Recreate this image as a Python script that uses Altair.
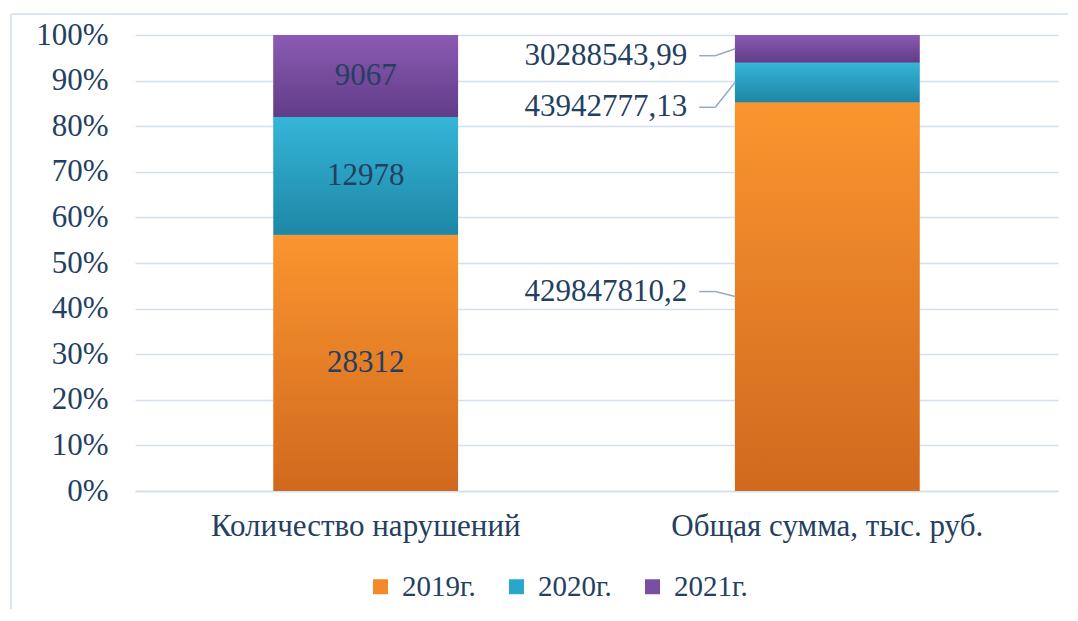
import altair as alt
import pandas as pd

categories = ["Количество нарушений", "Общая сумма, тыс. руб."]
years = ["2019г.", "2020г.", "2021г."]
values_count = [28312, 12978, 9067]
values_sum = [429847810.2, 43942777.13, 30288543.99]
labels_count = ["28312", "12978", "9067"]
labels_sum = ["429847810,2", "43942777,13", "30288543,99"]

# styles
FONT = "Liberation Serif"
TEXT = "#243F62"
GRID = "#D3DEEE"
solid = ["#F28A2A", "#2AA6C9", "#7A4FA3"]
grad_top = ["#FA952F", "#35B6D8", "#8A5BB2"]
grad_bot = ["#D1691E", "#1E86A6", "#613C88"]
right_dy = [-5, 25, 7]  # pixel offsets of outside labels (2019, 2020, 2021)

rows = []
for i, yr in enumerate(years):
    rows.append({"cat": categories[0], "year": yr, "order": i,
                 "value": values_count[i], "label": labels_count[i]})
    rows.append({"cat": categories[1], "year": yr, "order": i,
                 "value": values_sum[i], "label": labels_sum[i]})
df = pd.DataFrame(rows)

base = (
    alt.Chart(df)
    .transform_joinaggregate(total="sum(value)", groupby=["cat"])
    .transform_calculate(pct="datum.value / datum.total * 100")
    .transform_stack(stack="pct", groupby=["cat"],
                     sort=[alt.SortField("order", order="ascending")],
                     as_=["y0", "y1"])
    .transform_calculate(mid="(datum.y0 + datum.y1) / 2")
)

x_enc = alt.X(
    "cat:N",
    scale=alt.Scale(domain=categories, paddingInner=0.6, paddingOuter=0.3),
    axis=alt.Axis(title=None, labelAngle=0, labelPadding=20, ticks=False,
                  labelLimit=0, domain=True, domainColor=GRID, domainWidth=1.5,
                  labelFont=FONT, labelFontSize=31, labelColor=TEXT),
)
y_axis = alt.Axis(title=None, values=list(range(0, 101, 10)),
                  labelExpr="datum.value + '%'", ticks=False, domain=False,
                  grid=True, gridColor=GRID, gridWidth=1.5, labelPadding=27,
                  labelFont=FONT, labelFontSize=31, labelColor=TEXT)
y_scale = alt.Scale(domain=[0, 100], nice=False)

bars = base.mark_bar().encode(
    x=x_enc,
    y=alt.Y("y0:Q", scale=y_scale, axis=y_axis),
    y2="y1:Q",
    color=alt.Color(
        "year:N",
        scale=alt.Scale(domain=years, range=solid),
        legend=alt.Legend(title=None, orient="none", direction="horizontal",
                          legendX=231, legendY=537, symbolType="square",
                          symbolSize=225, symbolStrokeWidth=0,
                          labelFont=FONT, labelFontSize=29, labelColor=TEXT,
                          labelOffset=7, columnPadding=26),
    ),
)

layers = [bars]
for i, yr in enumerate(years):
    g = alt.LinearGradient(
        gradient="linear", x1=0, y1=0, x2=0, y2=1,
        stops=[alt.GradientStop(offset=0, color=grad_top[i]),
               alt.GradientStop(offset=1, color=grad_bot[i])],
    )
    layers.append(
        base.transform_filter(alt.datum.year == yr)
        .mark_bar(fill=g)
        .encode(x=x_enc, y=alt.Y("y0:Q", scale=y_scale, axis=y_axis), y2="y1:Q")
    )

# labels inside left bar
layers.append(
    base.transform_filter(alt.datum.cat == categories[0])
    .mark_text(font=FONT, fontSize=31, color=TEXT)
    .encode(x=x_enc, y=alt.Y("mid:Q", scale=y_scale, axis=y_axis), text="label:N")
)

# labels outside right bar with leader lines
for i, yr in enumerate(years):
    sub = base.transform_filter(
        (alt.datum.cat == categories[1]) & (alt.datum.year == yr))
    d = right_dy[i]
    layers.append(
        sub.mark_text(font=FONT, fontSize=31, color=TEXT, align="right",
                      dx=-140, dy=d)
        .encode(x=x_enc, y=alt.Y("mid:Q", scale=y_scale, axis=y_axis),
                text="label:N")
    )
    layers.append(
        sub.mark_rule(color="#93ABC9", strokeWidth=1.5,
                      xOffset=-128, x2Offset=-112, yOffset=d, y2Offset=d)
        .encode(x=x_enc, x2="cat:N",
                y=alt.Y("mid:Q", scale=y_scale, axis=y_axis), y2="mid:Q")
    )
    layers.append(
        sub.mark_rule(color="#93ABC9", strokeWidth=1.5,
                      xOffset=-112, x2Offset=-92, yOffset=d, y2Offset=0)
        .encode(x=x_enc, x2="cat:N",
                y=alt.Y("mid:Q", scale=y_scale, axis=y_axis), y2="mid:Q")
    )

# outer frame
frame_df = pd.DataFrame({"a": [0]})
layers.append(
    alt.Chart(frame_df).mark_rule(color="#DCE6F3", strokeWidth=2)
    .encode(x=alt.value(-124), x2=alt.value(943), y=alt.value(-21))
)
layers.append(
    alt.Chart(frame_df).mark_rule(color="#DCE6F3", strokeWidth=2)
    .encode(x=alt.value(-124), y=alt.value(-21), y2=alt.value(600))
)

chart = (
    alt.layer(*layers)
    .properties(width=923, height=456,
                padding={"left": 127, "top": 27, "right": 10, "bottom": 118},
                autosize=alt.AutoSizeParams(type="none"))
    .configure_view(stroke=None)
)

chart.save("out.html", embed_options={"renderer": "svg", "actions": False})
